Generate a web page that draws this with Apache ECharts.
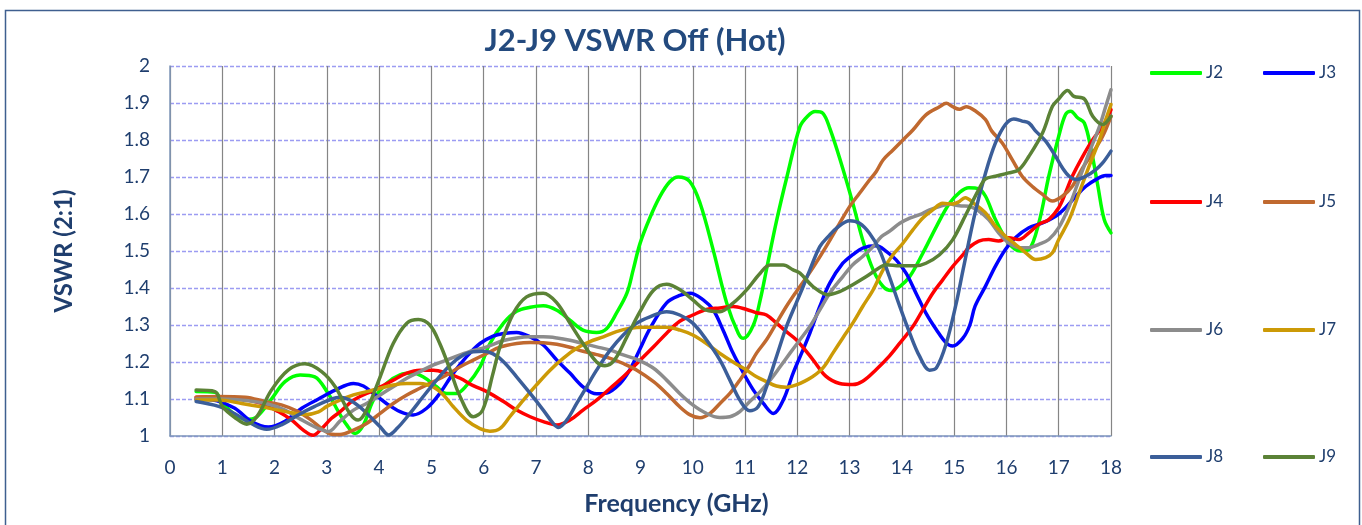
<!DOCTYPE html>
<html>
<head>
<meta charset="utf-8">
<script src="https://cdn.jsdelivr.net/npm/echarts@6/dist/echarts.min.js"></script>
<style>
html,body{margin:0;padding:0;background:#fff;}
#c{width:1362px;height:525px;}
</style>
</head>
<body>
<div id="c"></div>
<script>
// Frequency (GHz), VSWR pairs
const J2 = [[0.5,1.12],[0.86,1.118],[1.0,1.09],[1.24,1.058],[1.45,1.045],[1.66,1.052],[1.94,1.1],[2.2,1.147],[2.49,1.165],[2.77,1.16],[3.02,1.116],[3.22,1.066],[3.38,1.03],[3.54,1.007],[3.7,1.03],[3.89,1.097],[4.14,1.142],[4.4,1.165],[4.63,1.17],[4.84,1.16],[5.1,1.133],[5.29,1.115],[5.48,1.115],[5.67,1.136],[5.93,1.187],[6.12,1.25],[6.38,1.305],[6.63,1.337],[6.89,1.348],[7.14,1.352],[7.4,1.34],[7.65,1.313],[7.9,1.286],[8.16,1.28],[8.35,1.29],[8.54,1.332],[8.74,1.386],[8.86,1.449],[8.99,1.52],[9.18,1.59],[9.37,1.647],[9.56,1.687],[9.72,1.70],[9.94,1.688],[10.14,1.629],[10.39,1.503],[10.65,1.359],[10.87,1.278],[10.97,1.264],[11.16,1.3],[11.29,1.368],[11.41,1.45],[11.6,1.58],[11.8,1.70],[12.05,1.836],[12.2,1.865],[12.34,1.877],[12.49,1.872],[12.62,1.832],[12.82,1.746],[13.06,1.63],[13.25,1.53],[13.45,1.449],[13.64,1.404],[13.8,1.393],[13.96,1.404],[14.15,1.431],[14.4,1.494],[14.66,1.566],[14.91,1.629],[15.1,1.658],[15.28,1.671],[15.47,1.668],[15.6,1.648],[15.79,1.585],[16.04,1.522],[16.27,1.5],[16.43,1.504],[16.62,1.576],[16.81,1.702],[17.0,1.81],[17.13,1.869],[17.23,1.878],[17.36,1.86],[17.49,1.846],[17.62,1.774],[17.75,1.675],[17.87,1.585],[18.0,1.549]];
const J3 = [[0.5,1.1],[0.9,1.095],[1.24,1.075],[1.56,1.039],[1.88,1.024],[2.2,1.04],[2.52,1.075],[2.84,1.1],[3.16,1.124],[3.51,1.142],[3.7,1.135],[3.89,1.115],[4.14,1.088],[4.4,1.066],[4.65,1.057],[4.91,1.075],[5.16,1.115],[5.42,1.17],[5.67,1.214],[5.93,1.25],[6.18,1.27],[6.38,1.277],[6.63,1.28],[6.89,1.268],[7.14,1.246],[7.4,1.205],[7.65,1.17],[7.9,1.133],[8.16,1.114],[8.35,1.116],[8.61,1.142],[8.8,1.18],[8.99,1.235],[9.18,1.29],[9.5,1.36],[9.75,1.38],[9.95,1.386],[10.2,1.368],[10.39,1.341],[10.58,1.286],[10.77,1.224],[10.97,1.17],[11.16,1.124],[11.35,1.088],[11.54,1.061],[11.73,1.097],[11.92,1.17],[12.1,1.23],[12.24,1.278],[12.43,1.35],[12.62,1.413],[12.87,1.467],[13.06,1.49],[13.25,1.508],[13.51,1.514],[13.7,1.499],[13.89,1.476],[14.08,1.44],[14.27,1.386],[14.46,1.332],[14.66,1.287],[14.85,1.251],[14.97,1.243],[15.17,1.265],[15.3,1.3],[15.4,1.351],[15.6,1.405],[15.79,1.459],[15.98,1.504],[16.17,1.536],[16.43,1.563],[16.69,1.576],[16.94,1.594],[17.13,1.617],[17.33,1.648],[17.52,1.675],[17.71,1.693],[17.9,1.704],[18.0,1.704]];
const J4 = [[0.5,1.105],[0.93,1.106],[1.37,1.1],[1.75,1.088],[2.07,1.066],[2.33,1.043],[2.55,1.016],[2.74,1.002],[2.9,1.02],[3.09,1.048],[3.25,1.065],[3.51,1.097],[3.76,1.115],[4.02,1.132],[4.27,1.151],[4.53,1.17],[4.78,1.178],[5.04,1.178],[5.29,1.17],[5.55,1.156],[5.8,1.136],[6.06,1.12],[6.38,1.093],[6.63,1.07],[6.89,1.052],[7.14,1.039],[7.4,1.03],[7.65,1.043],[7.9,1.07],[8.16,1.097],[8.42,1.129],[8.67,1.16],[8.93,1.196],[9.25,1.241],[9.5,1.278],[9.75,1.31],[10.0,1.327],[10.26,1.342],[10.52,1.346],[10.77,1.35],[11.03,1.342],[11.22,1.333],[11.41,1.327],[11.6,1.305],[11.79,1.282],[11.98,1.26],[12.3,1.206],[12.55,1.161],[12.81,1.142],[13.06,1.139],[13.25,1.148],[13.51,1.18],[13.76,1.216],[13.96,1.251],[14.21,1.296],[14.4,1.341],[14.59,1.386],[14.78,1.422],[14.97,1.458],[15.17,1.49],[15.28,1.509],[15.47,1.527],[15.66,1.531],[15.85,1.527],[16.04,1.536],[16.24,1.531],[16.43,1.549],[16.62,1.572],[16.81,1.585],[17.0,1.617],[17.13,1.657],[17.26,1.702],[17.46,1.756],[17.65,1.801],[17.84,1.837],[18.0,1.882]];
const J5 = [[0.5,1.105],[0.93,1.107],[1.44,1.105],[1.82,1.093],[2.13,1.084],[2.45,1.066],[2.7,1.043],[2.9,1.02],[3.09,1.005],[3.25,1.004],[3.51,1.016],[3.76,1.034],[4.02,1.061],[4.27,1.088],[4.53,1.111],[4.78,1.129],[5.04,1.147],[5.29,1.165],[5.55,1.187],[5.8,1.205],[6.06,1.223],[6.31,1.24],[6.63,1.25],[6.89,1.253],[7.14,1.252],[7.4,1.248],[7.65,1.24],[7.9,1.229],[8.16,1.22],[8.42,1.21],[8.67,1.196],[8.93,1.178],[9.25,1.147],[9.5,1.115],[9.75,1.079],[9.95,1.057],[10.14,1.049],[10.33,1.061],[10.52,1.088],[10.71,1.115],[10.9,1.151],[11.09,1.192],[11.22,1.224],[11.41,1.26],[11.6,1.305],[11.79,1.35],[11.98,1.39],[12.18,1.43],[12.3,1.455],[12.55,1.512],[12.81,1.575],[13.0,1.62],[13.19,1.656],[13.38,1.692],[13.51,1.715],[13.64,1.746],[13.83,1.773],[14.02,1.80],[14.21,1.827],[14.46,1.868],[14.72,1.89],[14.85,1.899],[14.97,1.89],[15.1,1.883],[15.23,1.89],[15.42,1.877],[15.6,1.855],[15.72,1.824],[15.92,1.792],[16.11,1.747],[16.3,1.702],[16.49,1.675],[16.69,1.653],[16.88,1.635],[17.07,1.648],[17.26,1.675],[17.46,1.725],[17.65,1.765],[17.84,1.81],[18.0,1.864]];
const J6 = [[0.5,1.1],[1.0,1.1],[1.5,1.095],[1.9,1.085],[2.2,1.07],[2.5,1.045],[2.84,1.02],[3.03,1.012],[3.25,1.04],[3.51,1.07],[3.76,1.088],[4.02,1.111],[4.27,1.133],[4.53,1.156],[4.78,1.174],[5.04,1.192],[5.29,1.205],[5.55,1.219],[5.8,1.231],[6.06,1.241],[6.38,1.258],[6.63,1.265],[6.89,1.268],[7.14,1.268],[7.4,1.265],[7.65,1.259],[7.9,1.25],[8.16,1.241],[8.42,1.232],[8.67,1.219],[8.93,1.207],[9.25,1.183],[9.5,1.151],[9.75,1.115],[10.0,1.084],[10.26,1.061],[10.52,1.05],[10.71,1.052],[10.9,1.066],[11.09,1.093],[11.29,1.12],[11.48,1.151],[11.67,1.187],[11.86,1.224],[12.05,1.26],[12.24,1.296],[12.43,1.341],[12.62,1.386],[12.87,1.431],[13.06,1.463],[13.25,1.485],[13.45,1.512],[13.61,1.539],[13.76,1.553],[13.96,1.575],[14.15,1.589],[14.34,1.598],[14.53,1.611],[14.72,1.62],[14.91,1.627],[15.1,1.622],[15.28,1.621],[15.47,1.608],[15.66,1.585],[15.85,1.549],[16.04,1.522],[16.24,1.509],[16.43,1.509],[16.62,1.518],[16.81,1.531],[17.0,1.563],[17.2,1.621],[17.39,1.693],[17.58,1.765],[17.78,1.837],[17.9,1.891],[18.0,1.936]];
const J7 = [[0.5,1.097],[0.93,1.097],[1.37,1.088],[1.75,1.079],[2.07,1.07],[2.36,1.062],[2.61,1.058],[2.84,1.065],[3.0,1.08],[3.25,1.097],[3.51,1.111],[3.76,1.12],[4.02,1.129],[4.27,1.138],[4.53,1.142],[4.78,1.142],[5.04,1.132],[5.23,1.111],[5.42,1.079],[5.67,1.043],[5.93,1.02],[6.12,1.013],[6.31,1.02],[6.5,1.052],[6.76,1.097],[7.01,1.138],[7.27,1.178],[7.52,1.21],[7.78,1.237],[8.03,1.255],[8.29,1.268],[8.54,1.282],[8.8,1.291],[9.05,1.294],[9.25,1.294],[9.5,1.294],[9.76,1.286],[10.0,1.273],[10.26,1.25],[10.52,1.223],[10.77,1.2],[11.03,1.178],[11.22,1.16],[11.41,1.147],[11.6,1.135],[11.79,1.132],[11.98,1.138],[12.18,1.151],[12.3,1.161],[12.49,1.184],[12.68,1.224],[12.87,1.265],[13.06,1.305],[13.25,1.35],[13.45,1.395],[13.64,1.449],[13.83,1.49],[14.02,1.521],[14.21,1.557],[14.4,1.589],[14.59,1.611],[14.78,1.629],[14.97,1.627],[15.08,1.632],[15.21,1.644],[15.4,1.626],[15.6,1.603],[15.79,1.567],[15.98,1.54],[16.17,1.518],[16.37,1.495],[16.56,1.477],[16.75,1.482],[16.88,1.495],[17.0,1.531],[17.2,1.585],[17.39,1.657],[17.58,1.729],[17.78,1.801],[17.9,1.855],[18.0,1.896]];
const J8 = [[0.5,1.093],[0.93,1.08],[1.24,1.06],[1.56,1.033],[1.85,1.018],[2.13,1.03],[2.45,1.057],[2.77,1.08],[3.09,1.1],[3.25,1.105],[3.44,1.097],[3.63,1.079],[3.83,1.052],[4.02,1.025],[4.18,1.003],[4.34,1.02],[4.59,1.061],[4.84,1.106],[5.1,1.151],[5.36,1.192],[5.61,1.219],[5.8,1.228],[5.99,1.229],[6.18,1.222],[6.38,1.201],[6.63,1.16],[6.89,1.115],[7.14,1.07],[7.33,1.034],[7.43,1.023],[7.59,1.043],[7.78,1.088],[7.97,1.133],[8.16,1.178],[8.42,1.232],[8.67,1.273],[8.93,1.305],[9.18,1.322],[9.5,1.336],[9.75,1.327],[10.0,1.305],[10.26,1.26],[10.52,1.205],[10.71,1.151],[10.9,1.097],[11.09,1.068],[11.25,1.079],[11.41,1.133],[11.6,1.214],[11.79,1.295],[11.98,1.36],[12.1,1.4],[12.24,1.449],[12.43,1.512],[12.59,1.539],[12.75,1.562],[13.0,1.582],[13.19,1.575],[13.38,1.548],[13.57,1.503],[13.76,1.431],[13.96,1.35],[14.15,1.278],[14.34,1.215],[14.53,1.178],[14.66,1.184],[14.85,1.251],[15.04,1.359],[15.17,1.449],[15.4,1.603],[15.6,1.711],[15.79,1.792],[15.98,1.842],[16.14,1.857],[16.3,1.851],[16.43,1.846],[16.56,1.824],[16.75,1.797],[16.94,1.756],[17.07,1.725],[17.2,1.702],[17.33,1.693],[17.52,1.702],[17.71,1.72],[17.84,1.738],[18.0,1.77]];
const J9 = [[0.5,1.124],[0.86,1.12],[1.0,1.08],[1.24,1.05],[1.47,1.032],[1.66,1.052],[1.94,1.124],[2.26,1.178],[2.58,1.195],[2.9,1.174],[3.16,1.133],[3.44,1.061],[3.6,1.043],[3.76,1.07],[4.02,1.16],[4.27,1.25],[4.53,1.305],[4.75,1.315],[4.97,1.3],[5.16,1.25],[5.36,1.178],[5.55,1.106],[5.8,1.052],[5.98,1.07],[6.18,1.17],[6.31,1.24],[6.57,1.332],[6.82,1.376],[7.14,1.386],[7.4,1.36],[7.65,1.305],[7.9,1.25],[8.16,1.2],[8.32,1.19],[8.5,1.205],[8.74,1.268],[8.99,1.336],[9.25,1.394],[9.5,1.41],[9.75,1.396],[10.0,1.368],[10.26,1.34],[10.52,1.336],[10.77,1.359],[11.03,1.395],[11.29,1.44],[11.48,1.462],[11.73,1.462],[11.92,1.449],[12.05,1.44],[12.3,1.404],[12.59,1.382],[12.81,1.39],[13.06,1.409],[13.32,1.431],[13.51,1.449],[13.7,1.463],[13.96,1.46],[14.27,1.46],[14.46,1.467],[14.72,1.49],[14.97,1.53],[15.23,1.6],[15.47,1.666],[15.6,1.695],[15.79,1.702],[16.04,1.711],[16.24,1.72],[16.43,1.756],[16.69,1.819],[16.88,1.891],[17.0,1.911],[17.17,1.934],[17.29,1.918],[17.49,1.911],[17.65,1.864],[17.84,1.842],[18.0,1.864]];

const NAMES = ['J2','J3','J4','J5','J6','J7','J8','J9'];
const DATA = [J2,J3,J4,J5,J6,J7,J8,J9];
const COLORS = ['#00FF00','#0000FF','#FF0000','#C0692F','#8C8C8C','#CC9A06','#3B5E99','#5B8236'];

const TEXT = '#1F3E6E';
const FONT = 'Lato, "Open Sans", sans-serif';

// legend placement (2 columns x 4 rows)
const LEG_X = [1150, 1263];
const LEG_Y = [73, 202, 330, 457];

const legends = NAMES.map((n, i) => ({
  show: true,
  data: [n],
  left: LEG_X[i % 2],
  top: LEG_Y[Math.floor(i / 2)] - 10,
  padding: 0,
  itemWidth: 52,
  itemHeight: 4,
  itemGap: 0,
  icon: 'roundRect',
  textStyle: { color: TEXT, fontSize: 17, fontFamily: FONT, lineHeight: 20, padding: [0, 0, 0, -1] },
  selectedMode: false
}));

const chart = echarts.init(document.getElementById('c'), null, { renderer: 'canvas' });
chart.setOption({
  backgroundColor: '#fff',
  animation: false,
  color: COLORS,
  title: {
    text: 'J2-J9 VSWR Off (Hot)',
    left: 630,
    textAlign: 'center',
    top: 20,
    textStyle: { color: '#234A7E', fontSize: 31, fontWeight: 'bold', fontFamily: FONT }
  },
  graphic: [{
    type: 'rect',
    shape: { x: 5.5, y: 10.5, width: 1354, height: 540 },
    style: { fill: 'none', stroke: '#3F5F8F', lineWidth: 1.5 },
    silent: true
  }],
  legend: legends,
  grid: { left: 170, right: 251, top: 66, bottom: 89, containLabel: false },
  xAxis: {
    type: 'value',
    min: 0, max: 18, interval: 1,
    name: 'Frequency (GHz)',
    nameLocation: 'middle',
    nameGap: 55,
    nameTextStyle: { color: TEXT, fontSize: 25, fontWeight: 'bold', fontFamily: FONT, padding: [0, 0, 0, 72] },
    axisLine: { show: true, lineStyle: { color: '#7F97BA', width: 1.5 } },
    axisTick: { show: false },
    axisLabel: { color: TEXT, fontSize: 19, fontFamily: FONT, margin: 22 },
    splitLine: { show: true, lineStyle: { color: '#858585', width: 1.2 } }
  },
  yAxis: {
    type: 'value',
    min: 1, max: 2, interval: 0.1,
    name: 'VSWR (2:1)',
    nameLocation: 'middle',
    nameGap: 94,
    nameTextStyle: { color: TEXT, fontSize: 24, fontWeight: 'bold', fontFamily: FONT },
    axisLine: { show: true, lineStyle: { color: '#7F97BA', width: 1.5 } },
    axisTick: { show: false },
    axisLabel: { color: TEXT, fontSize: 19, fontFamily: FONT, margin: 20,
      formatter: v => String(Math.round(v * 10) / 10) },
    splitLine: { show: true, lineStyle: { color: '#9C9CF2', width: 1.3, type: [4, 2] } }
  },
  series: NAMES.map((n, i) => ({
    name: n,
    type: 'line',
    data: DATA[i],
    smooth: 0.35,
    showSymbol: false,
    symbol: 'none',
    lineStyle: { width: 3.5, color: COLORS[i], cap: 'round', join: 'round' },
    itemStyle: { color: COLORS[i] }
  }))
});
</script>
</body>
</html>
